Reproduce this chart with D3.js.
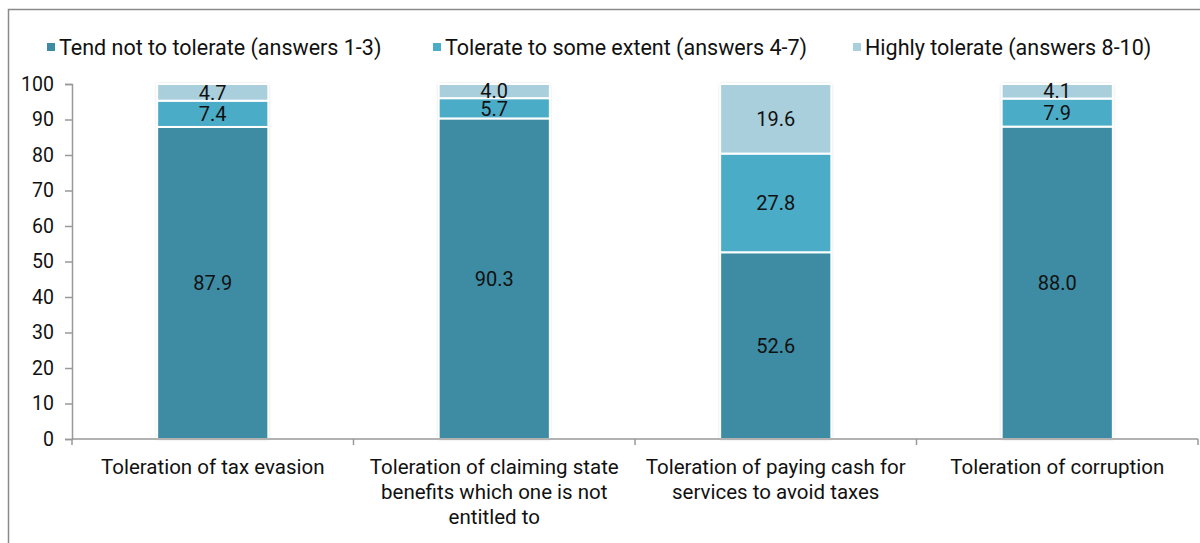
<!DOCTYPE html>
<html><head><meta charset="utf-8">
<script src="https://cdn.jsdelivr.net/npm/d3@7/dist/d3.min.js"></script>
<style>body{margin:0;background:#fff;}svg{display:block;font-family:Roboto,"Liberation Sans",Arial,sans-serif;}</style>
</head><body>
<svg id="c" width="1200" height="543"></svg>
<script>
const categories = [
  ["Toleration of tax evasion"],
  ["Toleration of claiming state","benefits which one is not","entitled to"],
  ["Toleration of paying cash for","services to avoid taxes"],
  ["Toleration of corruption"]
];
const seriesNames = ["Tend not to tolerate (answers 1-3)","Tolerate to some extent (answers 4-7)","Highly tolerate (answers 8-10)"];
const tendNot = [87.9, 90.3, 52.6, 88.0];
const someExtent = [7.4, 5.7, 27.8, 7.9];
const highly = [4.7, 4.0, 19.6, 4.1];
const yTicks = [0,10,20,30,40,50,60,70,80,90,100];
const colors = ["#3d8ca4","#4aacc6","#a9cfdd"];

const svg = d3.select("#c");
const defs = svg.append("defs");
const f = defs.append("filter").attr("id","sh").attr("x","-10%").attr("y","-10%").attr("width","120%").attr("height","120%");
f.append("feDropShadow").attr("dx",0).attr("dy",0).attr("stdDeviation",1.6).attr("flood-color","#000").attr("flood-opacity",0.25);

// border
svg.append("rect").attr("x",8.5).attr("y",9.5).attr("width",1300).attr("height",700)
  .attr("fill","none").attr("stroke","#8a8a8a").attr("stroke-width",1.5);

const x0=72, x1=1198, yTop=84, yBot=439;
const x = d3.scaleBand().domain(d3.range(4)).range([x0,x1]).paddingInner(0).paddingOuter(0);
const y = d3.scaleLinear().domain([0,100]).range([yBot,yTop]);
const bw = x.bandwidth()*0.395;

const data = d3.range(4).map(i=>({i, v:[tendNot[i],someExtent[i],highly[i]]}));
const stack = d3.stack().keys([0,1,2]).value((d,k)=>d.v[k]);
const stacked = stack(data);

const g = svg.append("g");
data.forEach(d=>{
  const cx = x(d.i)+x.bandwidth()/2;
  g.append("rect").attr("x",cx-bw/2).attr("y",y(100)).attr("width",bw).attr("height",y(0)-y(100))
    .attr("fill","#fff").attr("filter","url(#sh)");
});
stacked.forEach((layer,k)=>{
  layer.forEach((s,i)=>{
    const cx = x(i)+x.bandwidth()/2;
    g.append("rect").attr("x",cx-bw/2).attr("y",y(s[1])).attr("width",bw).attr("height",y(s[0])-y(s[1]))
      .attr("fill",colors[k]).attr("stroke","#fff").attr("stroke-width",2);
  });
});
stacked.forEach((layer,k)=>{
  layer.forEach((s,i)=>{
    const cx = x(i)+x.bandwidth()/2;
    g.append("text").attr("x",cx).attr("y",(y(s[0])+y(s[1]))/2).attr("dy","0.36em")
      .attr("text-anchor","middle").attr("font-size",20).attr("fill","#111")
      .text(d3.format(".1f")(s[1]-s[0]));
  });
});

// y axis
const ya = svg.append("g").attr("transform",`translate(${x0},0)`)
  .call(d3.axisLeft(y).tickValues(yTicks).tickSize(7).tickPadding(11));
ya.select(".domain").attr("stroke","#999").attr("stroke-width",1.5);
ya.selectAll(".tick line").attr("stroke","#999").attr("stroke-width",1.5);
ya.selectAll("text").attr("font-size",19.5).attr("fill","#111").attr("font-family","Roboto,'Liberation Sans',Arial,sans-serif");

// x axis line + ticks at band boundaries
svg.append("line").attr("x1",x0).attr("x2",x1).attr("y1",yBot).attr("y2",yBot).attr("stroke","#999").attr("stroke-width",1.5);
d3.range(5).forEach(j=>{
  const xx = j<4 ? x(j) : x1;
  svg.append("line").attr("x1",xx).attr("x2",xx).attr("y1",yBot).attr("y2",yBot+6).attr("stroke","#999").attr("stroke-width",1.5);
});
categories.forEach((lines,i)=>{
  const cx = x(i)+x.bandwidth()/2;
  const t = svg.append("text").attr("text-anchor","middle").attr("font-size",20.5).attr("fill","#111");
  lines.forEach((l,j)=>t.append("tspan").attr("x",cx).attr("y",474+j*25).text(l));
});

// legend
const legX = [47, 433, 853];
seriesNames.forEach((n,k)=>{
  svg.append("rect").attr("x",legX[k]).attr("y",43).attr("width",8).attr("height",8).attr("fill",colors[k]);
  svg.append("text").attr("x",legX[k]+12).attr("y",47).attr("dy","0.36em").attr("font-size",21.5).attr("fill","#111").text(n);
});
</script>
</body></html>
